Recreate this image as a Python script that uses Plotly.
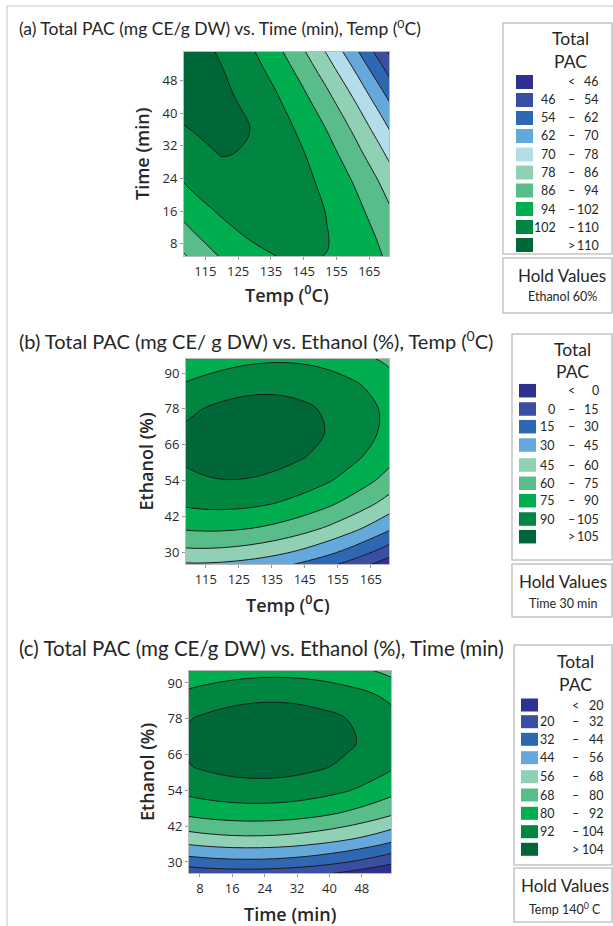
import plotly.graph_objects as go

# ---------------- data ----------------
# (a) Total PAC vs Time (rows) and Temp (columns); Ethanol held at 60 %
TEMP_A = [104, 112, 120, 128, 136, 144, 152, 160, 168, 176]
TIME_A = [2, 9, 16, 23, 30, 37, 44, 51, 58]
ZA = [
    [76.6, 85.2, 92.1, 97.1, 100.4, 101.9, 101.6, 99.5, 95.6, 89.9],
    [85.4, 92.7, 98.2, 101.9, 103.8, 103.9, 102.3, 98.8, 93.5, 86.5],
    [93.0, 99.0, 103.1, 105.5, 106.0, 104.8, 101.8, 97.0, 90.3, 81.9],
    [99.5, 104.1, 106.9, 107.9, 107.1, 104.5, 100.1, 93.9, 86.0, 76.2],
    [104.8, 108.0, 110.3, 109.6, 107.0, 103.0, 97.3, 89.7, 80.4, 69.3],
    [108.9, 110.8, 111.2, 110.3, 105.7, 100.4, 93.3, 84.4, 73.7, 61.2],
    [111.9, 112.4, 111.5, 108.4, 103.2, 96.5, 88.1, 77.8, 65.8, 52.0],
    [113.6, 112.8, 110.2, 105.7, 99.5, 91.5, 81.7, 70.1, 56.7, 41.5],
    [114.2, 112.0, 108.0, 102.3, 94.7, 85.3, 74.2, 61.2, 46.5, 29.9],
]
# (b) Total PAC vs Ethanol (rows) and Temp (columns); Time held at 30 min
TEMP_B = [104, 112, 120, 128, 136, 144, 152, 160, 168, 176]
ETH_B = [22, 30, 38, 46, 54, 62, 70, 78, 86, 94, 102]
ZB = [
    [30.6, 31.2, 29.8, 26.5, 21.2, 13.9, 4.7, -6.6, -19.7, -34.9],
    [55.5, 56.8, 56.1, 53.5, 49.0, 42.4, 33.9, 23.4, 11.0, -3.4],
    [75.2, 77.3, 77.4, 75.5, 71.7, 65.9, 58.1, 48.4, 36.7, 23.0],
    [89.9, 92.7, 93.6, 92.5, 89.4, 84.3, 77.3, 68.3, 57.3, 44.4],
    [99.6, 103.1, 104.7, 104.3, 102.0, 97.7, 91.4, 83.1, 72.9, 60.7],
    [104.2, 108.5, 110.8, 111.2, 109.5, 106.0, 100.4, 92.9, 83.4, 72.0],
    [103.7, 108.8, 111.8, 112.9, 112.0, 109.2, 104.4, 97.6, 88.9, 78.1],
    [98.2, 104.0, 107.8, 109.6, 109.5, 107.4, 103.3, 97.3, 89.3, 79.3],
    [87.7, 94.2, 98.7, 101.3, 101.9, 100.5, 97.2, 91.9, 84.6, 75.4],
    [72.0, 79.3, 84.6, 87.9, 89.2, 88.6, 86.0, 81.4, 74.9, 66.4],
    [51.4, 59.3, 65.4, 69.4, 71.5, 71.6, 69.7, 65.9, 60.1, 52.4],
]
# (c) Total PAC vs Ethanol (rows) and Time (columns); Temp held at 140 C
TIME_C = [2, 9, 16, 23, 30, 37, 44, 51, 58]
ETH_C = [22, 30, 38, 46, 54, 62, 70, 78, 86, 94, 102]
ZC = [
    [6.8, 9.5, 10.8, 10.6, 9.1, 6.1, 1.6, -4.2, -11.5],
    [36.7, 39.6, 41.0, 41.1, 39.7, 36.9, 32.6, 27.0, 19.9],
    [61.2, 64.2, 65.9, 66.1, 64.9, 62.2, 58.2, 52.7, 45.8],
    [80.2, 83.4, 85.2, 85.6, 84.6, 82.1, 78.3, 73.0, 66.3],
    [93.7, 97.1, 99.1, 99.7, 98.9, 96.6, 92.9, 87.8, 81.3],
    [101.8, 105.4, 107.6, 108.3, 107.7, 105.6, 102.1, 97.2, 90.8],
    [104.4, 108.2, 110.6, 111.5, 111.0, 109.1, 105.8, 101.1, 94.9],
    [101.6, 105.6, 108.1, 109.3, 109.0, 107.2, 104.1, 99.5, 93.5],
    [93.4, 97.5, 100.2, 101.5, 101.4, 99.9, 96.9, 92.5, 86.7],
    [79.6, 84.0, 86.9, 88.4, 88.4, 87.1, 84.3, 80.1, 74.4],
    [60.5, 65.0, 68.1, 69.7, 70.0, 68.8, 66.2, 62.2, 56.7],
]

LEV_A = [46, 54, 62, 70, 78, 86, 94, 102, 110]
LEV_B = [0, 15, 30, 45, 60, 75, 90, 105]
LEV_C = [20, 32, 44, 56, 68, 80, 92, 104]

TITLES = ["(a) Total PAC (mg CE/g DW) vs. Time (min), Temp (<sup>0</sup>C)",
          "(b) Total PAC (mg CE/ g DW) vs. Ethanol (%), Temp (<sup>0</sup>C)",
          "(c) Total PAC (mg CE/g DW) vs. Ethanol (%), Time (min)"]
XTITLES = ["Temp (<sup>0</sup>C)", "Temp (<sup>0</sup>C)", "Time (min)"]
YTITLES = ["Time (min)", "Ethanol (%)", "Ethanol (%)"]
HOLDS = ["Ethanol 60%", "Time 30 min", "Temp 140<sup>0</sup> C"]
XTICKS_A = [115, 125, 135, 145, 155, 165]
YTICKS_A = [8, 16, 24, 32, 40, 48]
XTICKS_B = [115, 125, 135, 145, 155, 165]
YTICKS_B = [30, 42, 54, 66, 78, 90]
XTICKS_C = [8, 16, 24, 32, 40, 48]
YTICKS_C = [30, 42, 54, 66, 78, 90]

COL_A = ["#2E3192", "#3A4FA2", "#2F68B2", "#65A8DC", "#B2DDE9", "#90D0B4", "#58BD89", "#00AE50", "#008641", "#006838"]
COL_9 = ["#2E3192", "#3A4FA2", "#2F68B2", "#65A8DC", "#90D0B4", "#58BD89", "#00AE50", "#008641", "#006838"]

# ---------------- layout helpers ----------------
W, H = 613, 926
FONT = "Lato"
AXFONT = "Open Sans"
TXT = "#262626"
BOXC = "#C4C4C4"


def px(x):
    return x / W


def py(y):
    return 1 - y / H


panels = [
    dict(x=TEMP_A, y=TIME_A, z=ZA, lev=LEV_A, col=COL_A, pxr=(184, 389), pyr=(52, 256),
         xr=[108.5, 171], yr=[5, 55], xt=XTICKS_A, yt=YTICKS_A,
         title_y=27, title_size=17.5, xtitle_y=294, ytitle_x=142,
         box=(503, 612, 23, 254), hold=(503, 612, 258, 313),
         rows=[82, 100, 118, 136, 154.5, 172.5, 190.5, 209, 227, 245],
         sw=(516, 533), sh=14, xl=558, xs=571, xr_=601, tot=(570, 38, 61.5), holdt=(562, 275, 296)),
    dict(x=TEMP_B, y=ETH_B, z=ZB, lev=LEV_B, col=COL_9, pxr=(186, 389), pyr=(359, 564),
         xr=[109, 170.5], yr=[26, 94.7], xt=XTICKS_B, yt=YTICKS_B,
         title_y=340, title_size=20, xtitle_y=604, ytitle_x=145,
         box=(512, 612, 334, 560), hold=(512, 612, 564, 617),
         rows=[390.7, 409, 426.7, 445, 465, 483.3, 500.7, 519, 536.7],
         sw=(519, 536), sh=13.5, xl=557, xs=571, xr_=601, tot=(572, 349, 371), holdt=(563, 581, 603)),
    dict(x=TIME_C, y=ETH_C, z=ZC, lev=LEV_C, col=COL_9, pxr=(189, 391), pyr=(671, 873),
         xr=[5.3, 55.2], yr=[26.3, 94], xt=XTICKS_C, yt=YTICKS_C,
         title_y=648, title_size=20.5, xtitle_y=914, ytitle_x=147,
         box=(514, 612, 645, 865), hold=(514, 612, 868, 922),
         rows=[705, 721.7, 739.3, 757.7, 776.7, 795, 813.3, 831.7, 849.3],
         sw=(521, 538), sh=13, xl=557, xs=575, xr_=606, tot=(575, 661, 684), holdt=(565, 885, 908)),
]

fig = go.Figure()
shapes = []
ann = []


def text(x, y, s, size, xanchor="center", color=TXT, family=FONT, weight=None, angle=0):
    f = dict(family=family, size=size, color=color)
    if weight:
        f["weight"] = weight
    ann.append(dict(x=px(x), y=py(y), xref="paper", yref="paper", text=s, showarrow=False,
                    xanchor=xanchor, yanchor="middle", textangle=angle, font=f))


for i, p in enumerate(panels):
    n = i + 1
    xa = "x" if n == 1 else f"x{n}"
    ya = "y" if n == 1 else f"y{n}"
    lev = p["lev"]
    cols = p["col"]
    nb = len(cols) - 1
    fig.add_trace(go.Contour(
        x=p["x"], y=p["y"], z=p["z"], xaxis=xa, yaxis=ya,
        autocontour=False,
        contours=dict(start=lev[0], end=lev[-1], size=lev[1] - lev[0], coloring="fill"),
        colorscale=[[k / nb, c] for k, c in enumerate(cols)],
        showscale=False, hoverinfo="skip",
        line=dict(color="#1c1c1c", width=1, smoothing=1.0)))
    axcommon = dict(showgrid=False, zeroline=False, showline=True, mirror=True,
                    linecolor="#BBBBBB", linewidth=1, ticks="outside", ticklen=3,
                    tickcolor="#9a9a9a",
                    tickfont=dict(family=AXFONT, size=13, color="#2a2a2a"))
    fig.update_layout(**{
        ("xaxis" if n == 1 else f"xaxis{n}"): dict(domain=[px(p["pxr"][0]), px(p["pxr"][1])], anchor=ya,
                                                  range=p["xr"], tickvals=p["xt"], **axcommon),
        ("yaxis" if n == 1 else f"yaxis{n}"): dict(domain=[py(p["pyr"][1]), py(p["pyr"][0])], anchor=xa,
                                                  range=p["yr"], tickvals=p["yt"], **axcommon),
    })
    # titles
    text(17, p["title_y"], TITLES[i], p["title_size"], xanchor="left")
    cx = (p["pxr"][0] + p["pxr"][1]) / 2
    cy = (p["pyr"][0] + p["pyr"][1]) / 2
    text(cx, p["xtitle_y"], XTITLES[i], 18, family=AXFONT, weight=600)
    text(p["ytitle_x"], cy, YTITLES[i], 18, family=AXFONT, weight=600, angle=-90)
    # legend box
    bx0, bx1, by0, by1 = p["box"]
    shapes.append(dict(type="rect", xref="paper", yref="paper", x0=px(bx0), x1=px(bx1),
                       y0=py(by1), y1=py(by0), line=dict(color=BOXC, width=1.5)))
    hx0, hx1, hy0, hy1 = p["hold"]
    shapes.append(dict(type="rect", xref="paper", yref="paper", x0=px(hx0), x1=px(hx1),
                       y0=py(hy1), y1=py(hy0), line=dict(color=BOXC, width=1.5)))
    tx, ty1, ty2 = p["tot"]
    text(tx, ty1, "Total", 17.5)
    text(tx, ty2, "PAC", 17.5)
    hx, hy1, hy2 = p["holdt"]
    text(hx, hy1, "Hold Values", 17)
    text(hx, hy2, HOLDS[i], 12.5)
    labels = [("", "<", str(lev[0]))]
    labels += [(str(a), "–", str(b)) for a, b in zip(lev[:-1], lev[1:])]
    labels += [("", ">", str(lev[-1]))]
    for k, (ry, col, lab) in enumerate(zip(p["rows"], cols, labels)):
        shapes.append(dict(type="rect", xref="paper", yref="paper", x0=px(p["sw"][0]), x1=px(p["sw"][1]),
                           y0=py(ry + p["sh"] / 2), y1=py(ry - p["sh"] / 2), fillcolor=col, line=dict(width=0)))
        if lab[0]:
            text(p["xl"], ry, lab[0], 12.5, xanchor="right")
        text(p["xs"], ry, lab[1], 12.5)
        text(p["xr_"], ry, lab[2], 12.5, xanchor="right")

# outer frame (only top and left edges fall inside the page)
shapes.append(dict(type="rect", xref="paper", yref="paper", x0=px(7), x1=px(W + 20), y0=py(H + 20), y1=py(6),
                   line=dict(color="#E2E2E2", width=2)))

fig.update_layout(width=W, height=H, margin=dict(l=0, r=0, t=0, b=0),
                  paper_bgcolor="white", plot_bgcolor="white", showlegend=False,
                  shapes=shapes, annotations=ann)
fig.write_html("out.html")
